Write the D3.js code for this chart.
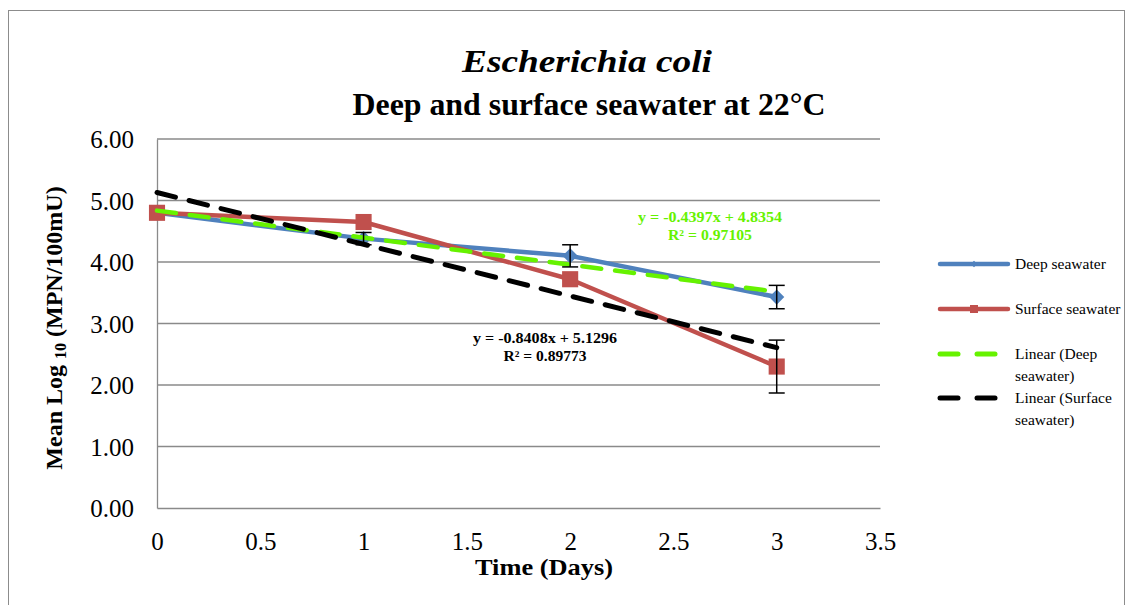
<!DOCTYPE html>
<html>
<head>
<meta charset="utf-8">
<script src="https://cdn.jsdelivr.net/npm/d3@7"></script>
<style>
  body { margin: 0; background: #fff; }
  text { font-family: "Liberation Serif", "Times New Roman", serif; }
</style>
</head>
<body>
<svg width="1127" height="605"></svg>
<script>
"use strict";

// 데이터
const days = [0, 1, 2, 3];
const deepMeans = [4.80, 4.38, 4.10, 3.43];
const deepErrors = [0, 0.10, 0.18, 0.19];
const surfaceMeans = [4.80, 4.65, 3.72, 2.30];
const surfaceErrors = [0, 0, 0, 0.43];

// 추세선 (차트에 표시된 식)
const trendSlopes = [-0.4397, -0.8408];
const trendIntercepts = [4.8354, 5.1296];
const trendLabels = [
  ["y = -0.4397x + 4.8354", "R\u00b2 = 0.97105"],
  ["y = -0.8408x + 5.1296", "R\u00b2 = 0.89773"]
];

const xTicks = [0, 0.5, 1, 1.5, 2, 2.5, 3, 3.5];
const yTicks = [0, 1, 2, 3, 4, 5, 6];

const svg = d3.select("svg");
const plot = { left: 157, top: 139, right: 880, bottom: 508 };

const x = d3.scaleLinear().domain([0, 3.5]).range([plot.left, plot.right]);
const y = d3.scaleLinear().domain([0, 6]).range([plot.bottom, plot.top]);

// 바깥 테두리
svg.append("rect")
  .attr("x", 8.5).attr("y", 10.5)
  .attr("width", 1116).attr("height", 610)
  .attr("fill", "none").attr("stroke", "#8c8c8c").attr("stroke-width", 1);

// 그리드
svg.append("g")
  .selectAll("line")
  .data(yTicks.slice(1))
  .join("line")
  .attr("x1", plot.left).attr("x2", plot.right)
  .attr("y1", (d) => y(d)).attr("y2", (d) => y(d))
  .attr("stroke", "#8a8a8a").attr("stroke-width", 1.3);

// 축
const yAxis = svg.append("g")
  .attr("transform", `translate(${plot.left},0)`)
  .call(d3.axisLeft(y).tickValues(yTicks).tickFormat(d3.format(".2f")).tickSize(0).tickPadding(23));
const xAxis = svg.append("g")
  .attr("transform", `translate(0,${plot.bottom})`)
  .call(d3.axisBottom(x).tickValues(xTicks).tickFormat((d) => d).tickSize(0));
[yAxis, xAxis].forEach((g) => {
  g.select(".domain").attr("stroke", "#8a8a8a").attr("stroke-width", 1.3);
  g.selectAll("text")
    .style("font-family", "'Liberation Serif', serif")
    .style("font-size", "25px")
    .attr("fill", "#000");
});
yAxis.selectAll("text").attr("dy", "0.34em");
xAxis.selectAll("text").attr("y", 42).attr("dy", 0);

// 제목 (원본은 가로로 조금 늘어나 있어서 textLength 로 폭을 맞춤)
svg.append("text")
  .attr("x", 587).attr("y", 72)
  .attr("text-anchor", "middle")
  .attr("textLength", 250).attr("lengthAdjust", "spacingAndGlyphs")
  .style("font-size", "32px").style("font-style", "italic").style("font-weight", "bold")
  .text("Escherichia coli");
svg.append("text")
  .attr("x", 589).attr("y", 115)
  .attr("text-anchor", "middle")
  .attr("textLength", 473).attr("lengthAdjust", "spacingAndGlyphs")
  .style("font-size", "32px").style("font-weight", "bold")
  .text("Deep and surface seawater at 22\u00b0C");

// 축 제목
svg.append("text")
  .attr("x", 544).attr("y", 575)
  .attr("text-anchor", "middle")
  .attr("textLength", 138).attr("lengthAdjust", "spacingAndGlyphs")
  .style("font-size", "23px").style("font-weight", "bold")
  .text("Time (Days)");

const yTitle = svg.append("text")
  .attr("transform", "translate(62,328) rotate(-90)")
  .attr("text-anchor", "middle")
  .style("font-size", "24px").style("font-weight", "bold");
yTitle.append("tspan").text("Mean Log ");
yTitle.append("tspan").style("font-size", "16px").attr("dy", 4).text("10");
yTitle.append("tspan").attr("dy", -4).text(" (MPN/100mU)");

// 시리즈
const series = [
  { name: "Deep seawater", means: deepMeans, errors: deepErrors, color: "#4F81BD", marker: "diamond" },
  { name: "Surface seawater", means: surfaceMeans, errors: surfaceErrors, color: "#C0504D", marker: "square" }
];
const trendColors = ["#66F200", "#000000"];

const line = d3.line().x((d) => x(d[0])).y((d) => y(d[1]));

series.forEach((s) => {
  const pts = days.map((d, i) => [d, s.means[i]]);
  svg.append("path")
    .attr("d", line(pts))
    .attr("fill", "none")
    .attr("stroke", s.color)
    .attr("stroke-width", 4.5)
    .attr("stroke-linejoin", "round");
  svg.append("g")
    .selectAll("path")
    .data(pts)
    .join("path")
    .attr("transform", (d) => `translate(${x(d[0])},${y(d[1])})` + (s.marker === "diamond" ? " rotate(45)" : ""))
    .attr("d", d3.symbol(d3.symbolSquare, s.marker === "diamond" ? 115 : 260))
    .attr("fill", s.color);
});

// 추세선
trendSlopes.forEach((m, i) => {
  const pts = [0, 3].map((t) => [t, m * t + trendIntercepts[i]]);
  svg.append("path")
    .attr("d", line(pts))
    .attr("fill", "none")
    .attr("stroke", trendColors[i])
    .attr("stroke-width", i === 0 ? 4.5 : 5)
    .attr("stroke-dasharray", "19,14")
    .attr("stroke-linecap", "round");
});

// 오차 막대 (0 이면 안 그림)
series.forEach((s) => {
  const g = svg.append("g").attr("stroke", "#000").attr("stroke-width", 1.5);
  days.forEach((d, i) => {
    if (!s.errors[i]) return;
    const cx = x(d), hi = y(s.means[i] + s.errors[i]), lo = y(s.means[i] - s.errors[i]);
    g.append("line").attr("x1", cx).attr("x2", cx).attr("y1", hi).attr("y2", lo);
    g.append("line").attr("x1", cx - 8).attr("x2", cx + 8).attr("y1", hi).attr("y2", hi);
    g.append("line").attr("x1", cx - 8).attr("x2", cx + 8).attr("y1", lo).attr("y2", lo);
  });
});

// 추세선 식 라벨
const labelPos = [[710, 222], [545, 343]];
const labelWidths = [[144, 84], [144, 83]];
trendLabels.forEach((lines, i) => {
  const t = svg.append("text")
    .attr("text-anchor", "middle")
    .attr("fill", i === 0 ? "#66F200" : "#000")
    .style("font-size", "15px").style("font-weight", "bold");
  lines.forEach((l, j) => {
    t.append("tspan")
      .attr("x", labelPos[i][0]).attr("y", labelPos[i][1] + j * 18)
      .attr("textLength", labelWidths[i][j]).attr("lengthAdjust", "spacingAndGlyphs")
      .text(l);
  });
});

// 범례
const legendItems = [
  { lines: ["Deep seawater"], color: "#4F81BD", kind: "diamond", y: 264 },
  { lines: ["Surface seawater"], color: "#C0504D", kind: "square", y: 309 },
  { lines: ["Linear (Deep", "seawater)"], color: "#66F200", kind: "dash", y: 354 },
  { lines: ["Linear (Surface", "seawater)"], color: "#000000", kind: "dash", y: 398 }
];
const legend = svg.append("g");
legendItems.forEach((it) => {
  const g = legend.append("g").attr("transform", `translate(0,${it.y})`);
  if (it.kind === "dash") {
    g.append("line").attr("x1", 940).attr("x2", 958).attr("stroke", it.color)
      .attr("stroke-width", 5).attr("stroke-linecap", "round");
    g.append("line").attr("x1", 977).attr("x2", 995).attr("stroke", it.color)
      .attr("stroke-width", 5).attr("stroke-linecap", "round");
  } else {
    g.append("line").attr("x1", 940).attr("x2", 1008).attr("stroke", it.color)
      .attr("stroke-width", 4.5).attr("stroke-linecap", "round");
    g.append("path")
      .attr("transform", "translate(974,0)" + (it.kind === "diamond" ? " rotate(45)" : ""))
      .attr("d", d3.symbol(d3.symbolSquare, it.kind === "diamond" ? 22 : 64))
      .attr("fill", it.color);
  }
  const t = g.append("text").style("font-size", "15.5px").attr("fill", "#000");
  it.lines.forEach((l, j) => {
    t.append("tspan").attr("x", 1015).attr("y", 5 + j * 22).text(l);
  });
});
</script>
</body>
</html>
